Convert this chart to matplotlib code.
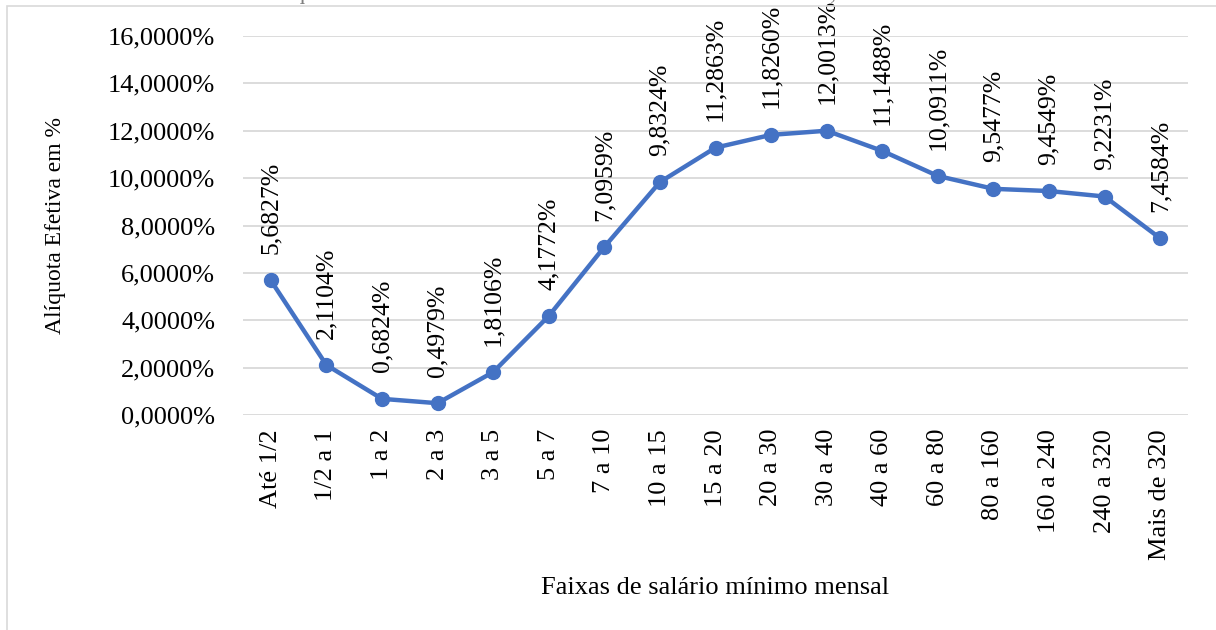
import matplotlib.pyplot as plt
from matplotlib.patches import Rectangle

faixas = ['Até 1/2', '1/2 a 1', '1 a 2', '2 a 3', '3 a 5', '5 a 7', '7 a 10',
          '10 a 15', '15 a 20', '20 a 30', '30 a 40', '40 a 60', '60 a 80',
          '80 a 160', '160 a 240', '240 a 320', 'Mais de 320']
aliquota = [5.6827, 2.1104, 0.6824, 0.4979, 1.8106, 4.1772, 7.0959,
            9.8324, 11.2863, 11.8260, 12.0013, 11.1488, 10.0911,
            9.5477, 9.4549, 9.2231, 7.4584]
yticks = [0, 2, 4, 6, 8, 10, 12, 14, 16]

plt.rcParams['font.family'] = ['Liberation Serif', 'DejaVu Serif']

fig = plt.figure(figsize=(12.16, 6.3), dpi=100)
ax = fig.add_axes([243/1216, 1 - 415/630, (1188 - 243)/1216, (415 - 36)/630])

# moldura do gráfico (cortada em cima/direita/baixo)
fig.patches.append(Rectangle((7/1216, -0.2), 1.2, 1.2 - 6/630, transform=fig.transFigure,
                             fill=False, edgecolor='#D9D9D9', linewidth=1.2))

fig.text(0.512, 1.0 + 1/630, 'Alíquota efetiva sobre os rendimentos e dividendos de faixa, ano-calendário',
         ha='center', va='baseline', fontsize=17, color='#7F7F7F')

x = list(range(len(faixas)))
ax.plot(x, aliquota, color='#4472C4', linewidth=3.2, marker='o', markersize=10,
        solid_capstyle='round', zorder=3)

for xi, v in zip(x, aliquota):
    ax.annotate(f'{v:.4f}%'.replace('.', ','), (xi, v), xytext=(0, 19),
                textcoords='offset points', rotation=90, ha='center', va='bottom',
                fontsize=18.5, color='black')

ax.set_xlim(-0.5, len(faixas) - 0.5)
ax.set_ylim(0, 16)
ax.set_yticks(yticks)
ax.set_yticklabels([f'{t:.4f}%'.replace('.', ',') for t in yticks], fontsize=19)
ax.set_xticks(x)
ax.set_xticklabels(faixas, rotation=90, fontsize=19)
ax.tick_params(length=0, pad=10)
ax.tick_params(axis='y', pad=20)
ax.grid(axis='y', color='#D9D9D9', linewidth=1.3)
ax.set_axisbelow(True)
for s in ax.spines.values():
    s.set_visible(False)

ax.set_ylabel('Alíquota Efetiva em %', fontsize=17, labelpad=30)
fig.text(715/1216, 1 - 588/630, 'Faixas de salário mínimo mensal', ha='center', va='center',
         fontsize=19)

fig.savefig('out.png', dpi=100)
